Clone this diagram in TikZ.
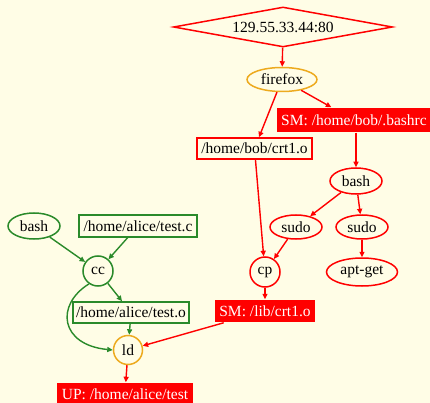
\documentclass[tikz,border=0pt]{standalone}
\usepackage{fontspec}
\setmainfont{Liberation Serif}
\newfontfamily\labelfont{Liberation Serif}
\usetikzlibrary{shapes.geometric,arrows.meta}
\definecolor{paper}{HTML}{FFFDE6}
\definecolor{procgreen}{HTML}{2A8A2A}
\definecolor{procorange}{HTML}{EDAA1E}
\definecolor{alertred}{HTML}{FF0000}
\tikzset{
  base/.style={inner sep=0pt, line width=1.5pt, fill=paper, font=\labelfont\fontsize{15.5}{18}\selectfont},
  redrect/.style={base, rectangle, draw=alertred},
  greenrect/.style={base, rectangle, draw=procgreen},
  redell/.style={base, ellipse, draw=alertred},
  greenell/.style={base, ellipse, draw=procgreen},
  orangeell/.style={base, ellipse, draw=procorange},
  tagbox/.style={base, rectangle, fill=alertred, text=white},
  flow/.style={line width=1.4pt, -{Triangle[length=5.5pt,width=5pt]}},
  redflow/.style={flow, draw=alertred},
  greenflow/.style={flow, draw=procgreen},
}
\begin{document}
\begin{tikzpicture}[x=1pt, y=-1pt]
  \fill[paper] (0,0) rectangle (430,403);
  \useasboundingbox (0,0) rectangle (430,403);

  % red process chain
  \node[base, diamond, draw=alertred, aspect=5.4, minimum width=219, minimum height=40] (ip) at (283,27) {129.55.33.44:80};
  \node[orangeell, minimum width=70, minimum height=24] (firefox) at (282,79.5) {firefox};
  \node[tagbox, minimum width=154, minimum height=24] (smbash) at (354,120) {SM: /home/bob/.bashrc};
  \node[redrect, minimum width=115, minimum height=21] (crtbob) at (254.5,148.5) {/home/bob/crt1.o};
  \node[redell, minimum width=52, minimum height=26] (bashr) at (356,181) {bash};
  \node[redell, minimum width=52, minimum height=24] (sudol) at (296,227) {sudo};
  \node[redell, minimum width=52, minimum height=24] (sudor) at (362,227) {sudo};
  \node[redell, minimum width=30, minimum height=30] (cp) at (265,272) {cp};
  \node[redell, minimum width=71, minimum height=28] (aptget) at (362,272) {apt-get};
  \node[tagbox, minimum width=100, minimum height=22] (smlib) at (265,311) {SM: /lib/crt1.o};

  % green compile chain
  \node[greenell, minimum width=52, minimum height=26] (bashl) at (34,226) {bash};
  \node[greenrect, minimum width=118, minimum height=22] (testc) at (138,226) {/home/alice/test.c};
  \node[greenell, minimum width=30, minimum height=30] (cc) at (98,271) {cc};
  \node[greenrect, minimum width=116, minimum height=21] (testo) at (131,312.5) {/home/alice/test.o};
  \node[orangeell, minimum width=29, minimum height=29] (ld) at (128,350) {ld};
  \node[tagbox, minimum width=136, minimum height=22] (up) at (125,394) {UP: /home/alice/test};

  % connectors
  \draw[redflow] (ip) -- (firefox);
  \draw[redflow] (firefox) -- (crtbob);
  \draw[redflow] (firefox) -- (smbash);
  \draw[redflow] (smbash.south -| bashr) -- (bashr);
  \draw[redflow] (crtbob) -- (cp);
  \draw[redflow] (bashr) -- (sudol);
  \draw[redflow] (bashr) -- (sudor);
  \draw[redflow] (sudol) -- (cp);
  \draw[redflow] (sudor) -- (aptget);
  \draw[redflow] (cp) -- (smlib);
  \draw[redflow] (smlib) -- (ld);
  \draw[redflow] (ld) -- (up);

  \draw[greenflow] (bashl) -- (cc);
  \draw[greenflow] (testc) -- (cc);
  \draw[greenflow] (cc) -- (testo);
  \draw[greenflow] (cc.235) .. controls (55,305) and (60,345) .. (ld.west);
  \draw[greenflow] (testo) -- (ld);
\end{tikzpicture}
\end{document}
